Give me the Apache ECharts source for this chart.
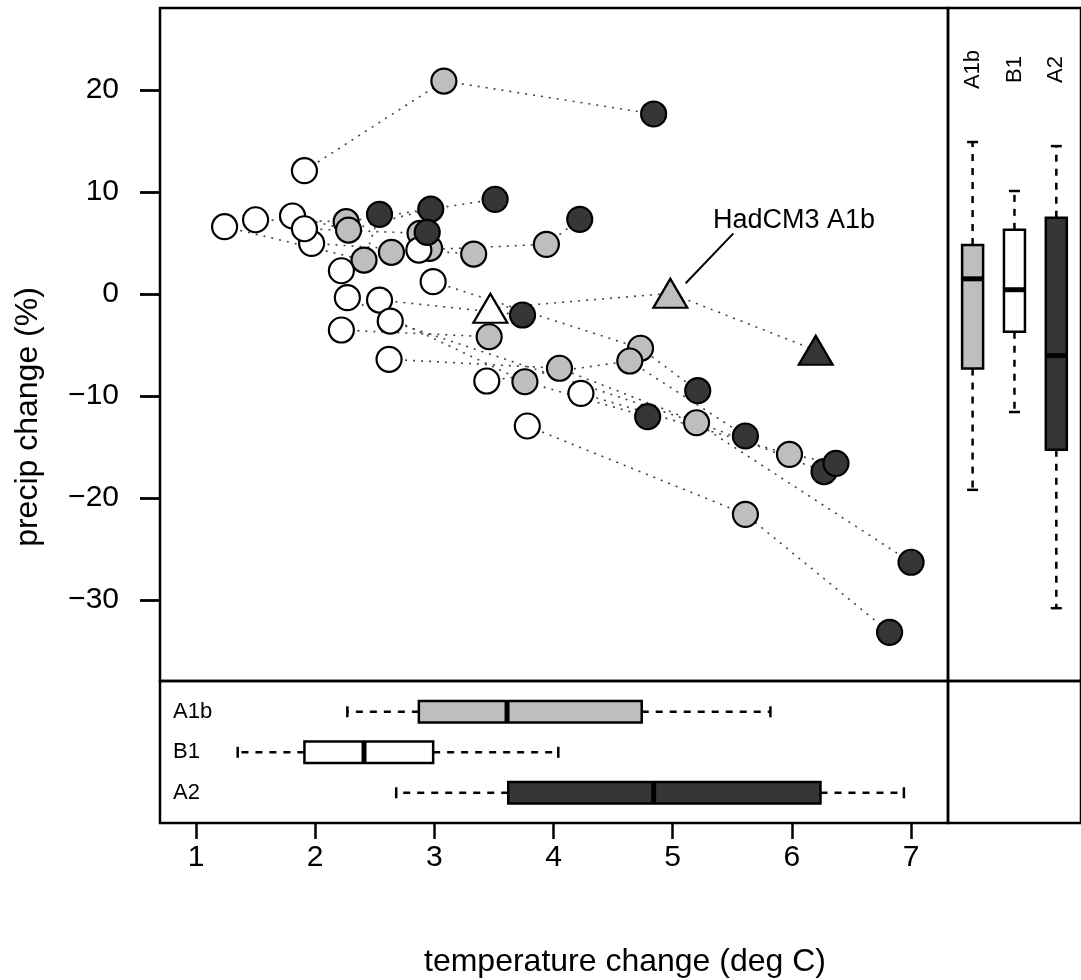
<!DOCTYPE html>
<html>
<head>
<meta charset="utf-8">
<script src="https://cdn.jsdelivr.net/npm/echarts@6/dist/echarts.min.js"></script>
<style>
html,body{margin:0;padding:0;background:#fff;}
#chart{width:1081px;height:980px;}
</style>
</head>
<body>
<div id="chart"></div>
<script>
// ---------------- data ----------------
// one entry per climate model; null = scenario not shown for that model
const b1Temp    = [1.91, 1.24, 1.50, 1.81, 1.97, 1.91, 2.87, 2.22, 2.99, 2.27, 2.54, 2.63, 2.22, 2.62, 3.44, 4.23, 3.78, null];
const b1Precip  = [12.09, 6.60, 7.28, 7.65, 4.97, 6.40, 4.31, 2.28, 1.21, -0.36, -0.59, -2.65, -3.53, -6.40, -8.53, -9.74, -12.94, null];
const a1bTemp   = [3.08, 2.41, 2.26, 2.28, 3.33, 2.88, 3.94, 2.64, 4.73, 3.76, null, 5.20, 3.46, 4.05, 4.64, 5.98, 5.61, 2.96];
const a1bPrecip = [20.88, 3.33, 7.09, 6.27, 3.92, 5.95, 4.87, 4.09, -5.32, -8.60, null, -12.62, -4.19, -7.28, -6.57, -15.72, -21.60, 4.48];
const a2Temp    = [4.84, 2.54, 3.51, 2.97, null, 2.94, 4.22, null, 5.21, 4.79, 3.74, 7.00, null, 6.27, 5.61, 6.37, 6.82, null];
const a2Precip  = [17.65, 7.81, 9.28, 8.33, null, 6.05, 7.32, null, -9.48, -12.03, -2.06, -26.30, null, -17.42, -13.92, -16.60, -33.17, null];

// HadCM3 (triangles): B1, A1b, A2
const hadScen   = ['B1', 'A1b', 'A2'];
const hadTemp   = [3.47, 4.98, 6.20];
const hadPrecip = [-1.40, 0.07, -5.52];
const hadLabel  = 'HadCM3 A1b';
const hadLabelAt = [5.338, 7.25];
const hadLeader  = [[5.109, 1.05], [5.509, 5.95]];

// box plot summaries [min, q1, median, q3, max]
const boxScen   = ['A1b', 'B1', 'A2'];
const tempBox   = [[2.27, 2.87, 3.61, 4.74, 5.82], [1.35, 1.91, 2.41, 2.99, 4.04], [2.68, 3.62, 4.84, 6.24, 6.94]];
const precipBox = [[-19.2, -7.31, 1.49, 4.80, 14.9], [-11.57, -3.70, 0.42, 6.29, 10.1], [-30.8, -15.27, -6.04, 7.48, 14.5]];

const xTicks = [1, 2, 3, 4, 5, 6, 7];
const yTicks = [-30, -20, -10, 0, 10, 20];
const xTitle = 'temperature change (deg C)';
const yTitle = 'precip change (%)';

// ---------------- layout / style ----------------
const X_MIN = 0.698, X_MAX = 7.31, Y_MIN = -37.94, Y_MAX = 28.04;
const FONT = '"Liberation Sans", Arial, Helvetica, sans-serif';
const FILL = {A1b: '#bebebe', B1: '#ffffff', A2: '#363636'};
const DOT_LINE = {color: '#444444', width: 1.6, type: [2, 6]};
const FRAME_W = 2.5;

function pts(tx, py) {
  const out = [];
  tx.forEach((t, i) => { if (t != null && py[i] != null) out.push([t, py[i]]); });
  return out;
}
const fmtNum = v => (v < 0 ? '\u2212' + Math.abs(v) : String(v));

// dotted connector lines per model (B1 -> A1b -> A2)
const lineSeries = b1Temp.map((_, i) => ({
  type: 'line', xAxisIndex: 0, yAxisIndex: 0, silent: true, symbol: 'none', z: 1,
  animation: false,
  data: [[b1Temp[i], b1Precip[i]], [a1bTemp[i], a1bPrecip[i]], [a2Temp[i], a2Precip[i]]].filter(p => p[0] != null),
  lineStyle: DOT_LINE
}));
lineSeries.push({
  type: 'line', xAxisIndex: 0, yAxisIndex: 0, silent: true, symbol: 'none', z: 1, animation: false,
  data: hadTemp.map((t, i) => [t, hadPrecip[i]]), lineStyle: DOT_LINE
});

function circleSeries(tx, py, fill, z) {
  return {
    type: 'scatter', xAxisIndex: 0, yAxisIndex: 0, silent: true, z: z, animation: false,
    symbol: 'circle', symbolSize: 25, data: pts(tx, py),
    itemStyle: {color: fill, borderColor: '#000', borderWidth: 2.2, opacity: 1}
  };
}

const chart = echarts.init(document.getElementById('chart'), null, {renderer: 'canvas'});

const option = {
  animation: false,
  backgroundColor: '#fff',
  textStyle: {fontFamily: FONT},
  grid: [
    {left: 160, top: 8, width: 788, height: 673, show: true, borderColor: '#000', borderWidth: FRAME_W, backgroundColor: 'transparent'},
    {left: 160, top: 681, width: 788, height: 142, show: true, borderColor: '#000', borderWidth: FRAME_W, backgroundColor: 'transparent'},
    {left: 948, top: 8, width: 133.4, height: 673, show: true, borderColor: '#000', borderWidth: FRAME_W, backgroundColor: 'transparent'},
    {left: 948, top: 681, width: 134, height: 142, show: true, borderColor: '#000', borderWidth: FRAME_W, backgroundColor: 'transparent'}
  ],
  xAxis: [
    {gridIndex: 0, type: 'value', min: X_MIN, max: X_MAX, axisLine: {show: false}, axisTick: {show: false}, axisLabel: {show: false}, splitLine: {show: false}},
    {gridIndex: 1, type: 'value', min: X_MIN, max: X_MAX, position: 'bottom',
      axisLine: {show: false}, splitLine: {show: false},
      axisTick: {show: true, inside: false, length: 16, customValues: xTicks, lineStyle: {color: '#000', width: 2.5}},
      axisLabel: {show: true, customValues: xTicks, margin: 20, fontSize: 30, color: '#000', fontFamily: FONT, formatter: fmtNum}},
    {gridIndex: 2, type: 'value', min: 0.412, max: 3.59, show: false},
    {gridIndex: 3, type: 'value', min: 0, max: 1, show: false}
  ],
  yAxis: [
    {gridIndex: 0, type: 'value', min: Y_MIN, max: Y_MAX, position: 'left',
      axisLine: {show: false}, splitLine: {show: false},
      axisTick: {show: true, inside: false, length: 20, customValues: yTicks, lineStyle: {color: '#000', width: 2.8}},
      axisLabel: {show: true, customValues: yTicks, margin: 41, fontSize: 30, color: '#000', fontFamily: FONT, formatter: fmtNum}},
    {gridIndex: 1, type: 'value', min: 0.24, max: 3.746, inverse: true, show: false},
    {gridIndex: 2, type: 'value', min: Y_MIN, max: Y_MAX, show: false},
    {gridIndex: 3, type: 'value', min: 0, max: 1, show: false}
  ],
  series: [
    ...lineSeries,
    circleSeries(a1bTemp, a1bPrecip, FILL.A1b, 2),
    circleSeries(b1Temp, b1Precip, FILL.B1, 3),
    circleSeries(a2Temp, a2Precip, FILL.A2, 4),
    {
      type: 'scatter', xAxisIndex: 0, yAxisIndex: 0, silent: true, z: 5, animation: false,
      symbol: 'triangle', symbolSize: [34, 29],
      itemStyle: {opacity: 1},
      data: hadTemp.map((t, i) => ({value: [t, hadPrecip[i]], itemStyle: {color: FILL[hadScen[i]], borderColor: '#000', borderWidth: 2.2, opacity: 1}}))
    },
    // annotation: leader line + text
    {
      type: 'custom', xAxisIndex: 0, yAxisIndex: 0, silent: true, z: 6, animation: false,
      data: [[hadLabelAt[0], hadLabelAt[1]]],
      renderItem: function (params, api) {
        const p1 = api.coord(hadLeader[0]);
        const p2 = api.coord(hadLeader[1]);
        const t = api.coord(hadLabelAt);
        return {type: 'group', children: [
          {type: 'line', shape: {x1: p1[0], y1: p1[1], x2: p2[0], y2: p2[1]}, style: {stroke: '#000', lineWidth: 2}},
          {type: 'text', x: t[0], y: t[1], style: {text: hadLabel, fill: '#000', fontSize: 27, fontFamily: FONT, align: 'left', verticalAlign: 'middle'}}
        ]};
      }
    },
    // bottom panel: horizontal box plots of temperature change
    {
      type: 'custom', xAxisIndex: 1, yAxisIndex: 1, silent: true, z: 3, animation: false,
      data: boxScen.map((s, i) => [i + 1].concat(tempBox[i])),
      renderItem: function (params, api) {
        const i = params.dataIndex;
        const pos = api.value(0);
        const c = [1, 2, 3, 4, 5].map(k => api.coord([api.value(k), pos]));
        const y = c[0][1], h = 21.5, cap = 11;
        const left = api.coord([X_MIN, pos])[0];
        const dash = {stroke: '#000', lineWidth: 2.5, lineDash: [7, 7]};
        const solid = {stroke: '#000', lineWidth: 2.5};
        return {type: 'group', children: [
          {type: 'line', shape: {x1: c[1][0], y1: y, x2: c[0][0], y2: y}, style: dash},
          {type: 'line', shape: {x1: c[3][0], y1: y, x2: c[4][0], y2: y}, style: dash},
          {type: 'line', shape: {x1: c[0][0], y1: y - cap / 2, x2: c[0][0], y2: y + cap / 2}, style: solid},
          {type: 'line', shape: {x1: c[4][0], y1: y - cap / 2, x2: c[4][0], y2: y + cap / 2}, style: solid},
          {type: 'rect', shape: {x: c[1][0], y: y - h / 2, width: c[3][0] - c[1][0], height: h}, style: {fill: FILL[boxScen[i]], stroke: '#000', lineWidth: 2.5}},
          {type: 'line', shape: {x1: c[2][0], y1: y - h / 2, x2: c[2][0], y2: y + h / 2}, style: {stroke: '#000', lineWidth: 5}},
          {type: 'text', x: left + 13, y: y, style: {text: boxScen[i], fill: '#000', fontSize: 22, fontFamily: FONT, align: 'left', verticalAlign: 'middle'}}
        ]};
      }
    },
    // right panel: vertical box plots of precipitation change
    {
      type: 'custom', xAxisIndex: 2, yAxisIndex: 2, silent: true, z: 3, animation: false,
      data: boxScen.map((s, i) => [i + 1].concat(precipBox[i])),
      renderItem: function (params, api) {
        const i = params.dataIndex;
        const pos = api.value(0);
        const c = [1, 2, 3, 4, 5].map(k => api.coord([pos, api.value(k)]));
        const x = c[0][0], w = 21, cap = 11;
        const top = api.coord([pos, Y_MAX])[1];
        const dash = {stroke: '#000', lineWidth: 2.5, lineDash: [7, 7]};
        const solid = {stroke: '#000', lineWidth: 2.5};
        return {type: 'group', children: [
          {type: 'line', shape: {x1: x, y1: c[1][1], x2: x, y2: c[0][1]}, style: dash},
          {type: 'line', shape: {x1: x, y1: c[3][1], x2: x, y2: c[4][1]}, style: dash},
          {type: 'line', shape: {x1: x - cap / 2, y1: c[0][1], x2: x + cap / 2, y2: c[0][1]}, style: solid},
          {type: 'line', shape: {x1: x - cap / 2, y1: c[4][1], x2: x + cap / 2, y2: c[4][1]}, style: solid},
          {type: 'rect', shape: {x: x - w / 2, y: c[3][1], width: w, height: c[1][1] - c[3][1]}, style: {fill: FILL[boxScen[i]], stroke: '#000', lineWidth: 2.5}},
          {type: 'line', shape: {x1: x - w / 2, y1: c[2][1], x2: x + w / 2, y2: c[2][1]}, style: {stroke: '#000', lineWidth: 5}},
          {type: 'text', x: x, y: top + 61.5, rotation: Math.PI / 2, style: {text: boxScen[i], fill: '#000', fontSize: 22, fontFamily: FONT, align: 'center', verticalAlign: 'middle'}}
        ]};
      }
    }
  ],
  graphic: [
    {type: 'text', x: 625, y: 962, silent: true,
      style: {text: xTitle, fill: '#000', fontSize: 32, fontFamily: FONT, align: 'center', verticalAlign: 'middle', textAlign: 'center', textVerticalAlign: 'middle'}},
    {type: 'text', x: 28, y: 417, rotation: Math.PI / 2, silent: true,
      style: {text: yTitle, fill: '#000', fontSize: 32, fontFamily: FONT, align: 'center', verticalAlign: 'middle', textAlign: 'center', textVerticalAlign: 'middle'}}
  ]
};

chart.setOption(option);
</script>
</body>
</html>
